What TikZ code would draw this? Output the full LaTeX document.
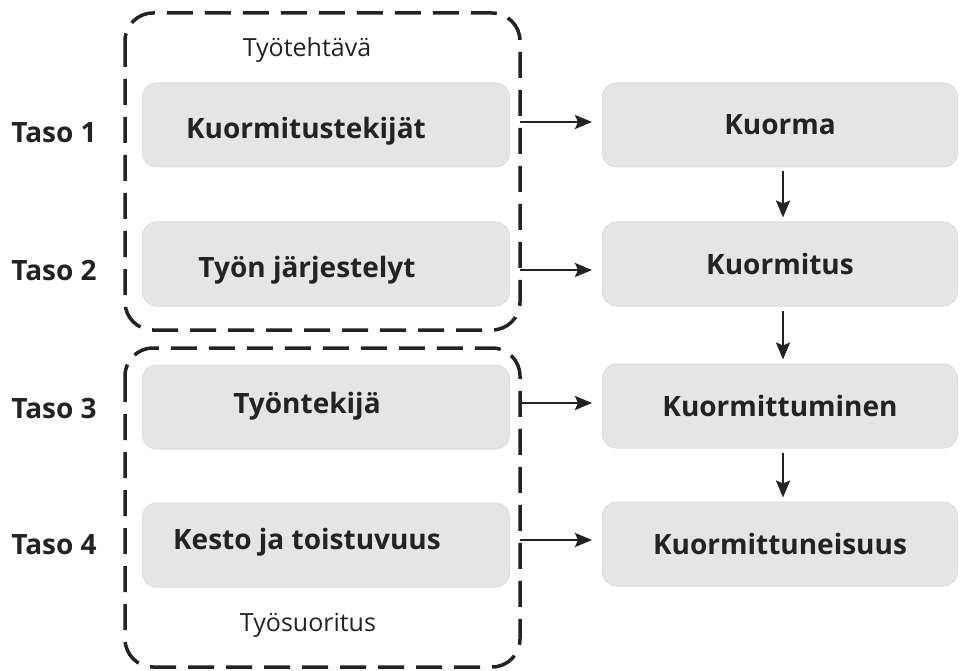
\documentclass[tikz,border=0pt]{standalone}
\usepackage{fontspec}
\setmainfont{Open Sans}
\usetikzlibrary{arrows.meta}
\definecolor{boxgray}{RGB}{229,229,229}
\definecolor{inkgray}{RGB}{35,35,35}

\begin{document}
\begin{tikzpicture}[x=1pt, y=-1pt,
    lbox/.style={rounded corners=14pt, fill=boxgray, draw=black!13, line width=1pt,
      minimum width=367pt, minimum height=84pt, inner sep=0pt},
    rbox/.style={lbox, minimum width=355pt, font=\fontsize{28}{33}\selectfont\bfseries, text=inkgray},
    btext/.style={font=\fontsize{28}{33}\selectfont\bfseries, text=inkgray, inner sep=0pt},
    ntext/.style={font=\fontsize{25}{30}\selectfont, text=inkgray, inner sep=0pt},
    group/.style={draw=inkgray, line width=3.5pt, rounded corners=28pt, dash pattern=on 26pt off 12pt},
    arr/.style={draw=inkgray, line width=2.4pt, -{Stealth[length=17pt, width=14pt, inset=3pt]}}]
  \useasboundingbox (0,0) rectangle (961,671);

  \draw[group] (125,13) rectangle (520,330);
  \draw[group] (125,348) rectangle (520,667);
  \node[ntext] (tehtava) at (307,50) {Työtehtävä};
  \node[ntext] (suoritus) at (308,625) {Työsuoritus};

  \node[btext] (taso1) at (54,133) {Taso 1};
  \node[btext] (taso2) at (54,270) {Taso 2};
  \node[btext] (taso3) at (54,408) {Taso 3};
  \node[btext] (taso4) at (54,545) {Taso 4};

  \node[lbox] (k1) at (326,125) {};
  \node[lbox] (k2) at (326,264) {};
  \node[lbox] (k3) at (326,407) {};
  \node[lbox] (k4) at (326,545) {};
  \node[btext] (t1) at (306,131) {Kuormitustekijät};
  \node[btext] (t2) at (307,270) {Työn järjestelyt};
  \node[btext] (t3) at (307,406) {Työntekijä};
  \node[btext] (t4) at (307,542) {Kesto ja toistuvuus};

  \node[rbox] (r1) at (780,125) {Kuorma};
  \node[rbox] (r2) at (780,264) {Kuormitus};
  \node[rbox] (r3) at (780,406) {Kuormittuminen};
  \node[rbox] (r4) at (780,544) {Kuormittuneisuus};

  \coordinate (a1) at (520,122);
  \coordinate (a2) at (520,270);
  \coordinate (a3) at (520,403);
  \coordinate (a4) at (520,540);
  \draw[arr, shorten >=10pt] (a1) -- (a1 -| r1.west);
  \draw[arr, shorten >=10pt] (a2) -- (a2 -| r2.west);
  \draw[arr, shorten >=10pt] (a3) -- (a3 -| r3.west);
  \draw[arr, shorten >=10pt] (a4) -- (a4 -| r4.west);

  \draw[arr, shorten <=4pt, shorten >=4pt] ([xshift=3pt]r1.south) -- ([xshift=3pt]r2.north);
  \draw[arr, shorten <=4pt, shorten >=4pt] ([xshift=3pt]r2.south) -- ([xshift=3pt]r3.north);
  \draw[arr, shorten <=4pt, shorten >=4pt] ([xshift=3pt]r3.south) -- ([xshift=3pt]r4.north);
\end{tikzpicture}
\end{document}
